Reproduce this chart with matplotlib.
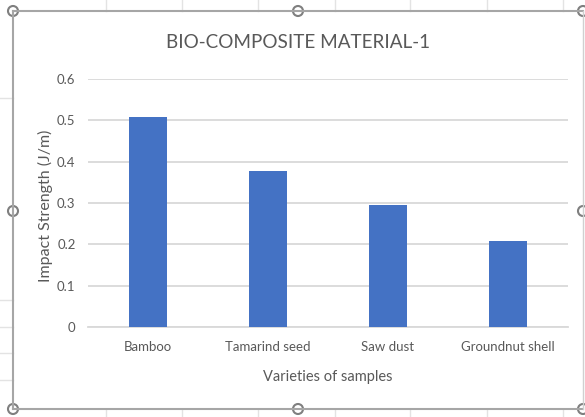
import matplotlib
matplotlib.use("Agg")
import matplotlib.pyplot as plt
from matplotlib.patches import Circle

# chart data
categories = ["Bamboo", "Tamarind seed", "Saw dust", "Groundnut shell"]
strength = [0.508, 0.378, 0.294, 0.208]
yticks = [0, 0.1, 0.2, 0.3, 0.4, 0.5, 0.6]
ytick_labels = ["0", "0.1", "0.2", "0.3", "0.4", "0.5", "0.6"]

W, H = 585, 417
txt = "#595959"
grid = "#d9d9d9"
plt.rcParams["font.family"] = ["Lato", "DejaVu Sans"]

fig = plt.figure(figsize=(W / 100, H / 100), dpi=100)
fig.patch.set_facecolor("white")

# plot area in pixels: x 88..568, y 79..327
ax = fig.add_axes([88 / W, (H - 327) / H, 480 / W, 248 / H])
x = range(len(categories))
ax.bar(x, strength, width=0.31, color="#4472C4", zorder=3)
ax.set_xlim(-0.5, len(categories) - 0.5)
ax.set_ylim(0, 0.6)
ax.set_yticks(yticks)
ax.set_yticklabels(ytick_labels)
ax.set_xticks(list(x))
ax.set_xticklabels(categories)
ax.yaxis.grid(True, color=grid, linewidth=1.3, zorder=0)
ax.set_axisbelow(True)
for s in ["top", "right", "left"]:
    ax.spines[s].set_visible(False)
ax.spines["bottom"].set_color(grid)
ax.spines["bottom"].set_linewidth(1.3)
ax.tick_params(axis="both", length=0, colors=txt, labelsize=9.5)
ax.tick_params(axis="y", pad=9)
ax.tick_params(axis="x", pad=10)

fig.text(298 / W, (H - 43) / H, "BIO-COMPOSITE MATERIAL-1", ha="center", va="center",
         fontsize=13.6, color=txt, fontweight="normal")
fig.text(328 / W, (H - 377) / H, "Varieties of samples", ha="center", va="center",
         fontsize=10.5, color=txt)
fig.text(45 / W, (H - 206) / H, "Impact Strength (J/m)", ha="center", va="center",
         rotation=90, fontsize=11.5, color=txt)

# selection frame and spreadsheet lines around the chart
ov = fig.add_axes([0, 0, 1, 1], facecolor="none")
ov.set_xlim(0, W)
ov.set_ylim(H, 0)
ov.axis("off")
for cx in [106, 182, 258, 335, 410, 487, 563]:
    ov.plot([cx, cx], [0, 11], color="#e3e3e3", lw=1)
    ov.plot([cx, cx], [409, H], color="#e3e3e3", lw=1)
for ry in [98, 300, 327, 353, 380]:
    ov.plot([0, 13], [ry, ry], color="#e3e3e3", lw=1)
ov.plot([13, 583], [11, 11], color="#a6a6a6", lw=1.5)
ov.plot([13, 583], [409, 409], color="#a6a6a6", lw=1.5)
ov.plot([13, 13], [11, 409], color="#a6a6a6", lw=1.5)
ov.plot([583, 583], [11, 409], color="#d0d0d0", lw=1)
for hx, hy in [(13, 11), (298, 11), (583, 11), (13, 211), (583, 211),
               (13, 409), (298, 409), (583, 409)]:
    ov.add_patch(Circle((hx, hy), 5, facecolor="white", edgecolor="#7f7f7f", lw=1.5))

fig.savefig("out.png", dpi=100)
